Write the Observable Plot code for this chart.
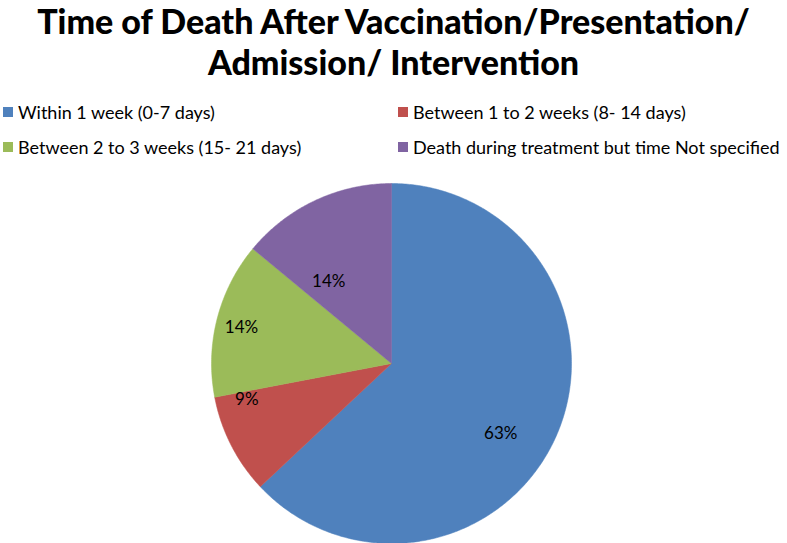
<!DOCTYPE html>
<html>
<head>
<meta charset="utf-8">
<script src="https://cdn.jsdelivr.net/npm/d3@7"></script>
<script src="https://cdn.jsdelivr.net/npm/@observablehq/plot@0.6"></script>
<style>
  html, body { margin: 0; padding: 0; background: #fff; }
  #root { position: relative; width: 787px; height: 543px; overflow: hidden; font-family: Lato, "Noto Sans", sans-serif; }
  .title { position: absolute; left: 0; width: 787px; text-align: center; font-weight: 900; font-size: 34px; line-height: 34px; color: #000; white-space: nowrap; }
  .leg { position: absolute; font-size: 18px; color: #000; white-space: nowrap; display: flex; align-items: center; }
  .sw { width: 10px; height: 10px; margin-right: 5px; display: inline-block; }
  #chart { position: absolute; left: 0; top: 170px; }
</style>
</head>
<body>
<div id="root">
  <div class="title" style="top:4px">Time of Death After Vaccination/Presentation/</div>
  <div class="title" style="top:45px">Admission/ Intervention</div>
  <div id="legend"></div>
  <div id="chart"></div>
</div>
<script>
const categories = [
  "Within 1 week (0-7 days)",
  "Between 1 to 2 weeks (8- 14 days)",
  "Between 2 to 3 weeks (15- 21 days)",
  "Death during treatment but time Not specified"
];
const values = [63, 9, 14, 14];
const labels = ["63%", "9%", "14%", "14%"];
const colors = ["#4F81BD", "#C0504D", "#9BBB59", "#8064A2"];

// legend (2 columns, row-major)
const legend = document.getElementById("legend");
categories.forEach((c, i) => {
  const d = document.createElement("div");
  d.className = "leg";
  d.style.left = (i % 2 === 0 ? 3 : 398) + "px";
  d.style.top = (i < 2 ? 101 : 136) + "px";
  d.innerHTML = `<span class="sw" style="background:${colors[i]}"></span>${c}`;
  legend.appendChild(d);
});

// pie geometry from values
const arcs = d3.pie().sort(null)(values);
const rows = [];
arcs.forEach((a, i) => {
  rows.push({cat: categories[i], x: 0, y: 0});
  const n = Math.max(2, Math.ceil((a.endAngle - a.startAngle) / 0.01));
  for (let k = 0; k <= n; k++) {
    const t = a.startAngle + (a.endAngle - a.startAngle) * k / n;
    rows.push({cat: categories[i], x: Math.sin(t), y: Math.cos(t)});
  }
  rows.push({cat: categories[i], x: 0, y: 0});
});
const labelRows = arcs.map((a, i) => {
  const m = (a.startAngle + a.endAngle) / 2;
  const r = 0.74;
  return {label: labels[i], x: r * Math.sin(m), y: r * Math.cos(m)};
});
// best-fit style nudges of the data labels (as in the spreadsheet output)
const nudges = [[-13, 17], [-26, -24], [-21, -3], [-6, 39]];

const R = 180, cx = 391, cy = 193;
const chart = Plot.plot({
  width: 787,
  height: 373,
  margin: 0,
  x: {domain: [-1, 1], range: [cx - R, cx + R], axis: null},
  y: {domain: [-1, 1], range: [cy + R, cy - R], axis: null},
  color: {domain: categories, range: colors},
  marks: [
    Plot.line(rows, {x: "x", y: "y", z: "cat", fill: "cat", stroke: "cat", strokeWidth: 0.5, curve: "linear"}),
    ...labelRows.map((d, i) => Plot.text([d], {x: "x", y: "y", text: "label", fontSize: 17, fill: "#000", fontFamily: "Lato, sans-serif", dx: nudges[i][0], dy: nudges[i][1]}))
  ]
});
document.getElementById("chart").appendChild(chart);
</script>
</body>
</html>
